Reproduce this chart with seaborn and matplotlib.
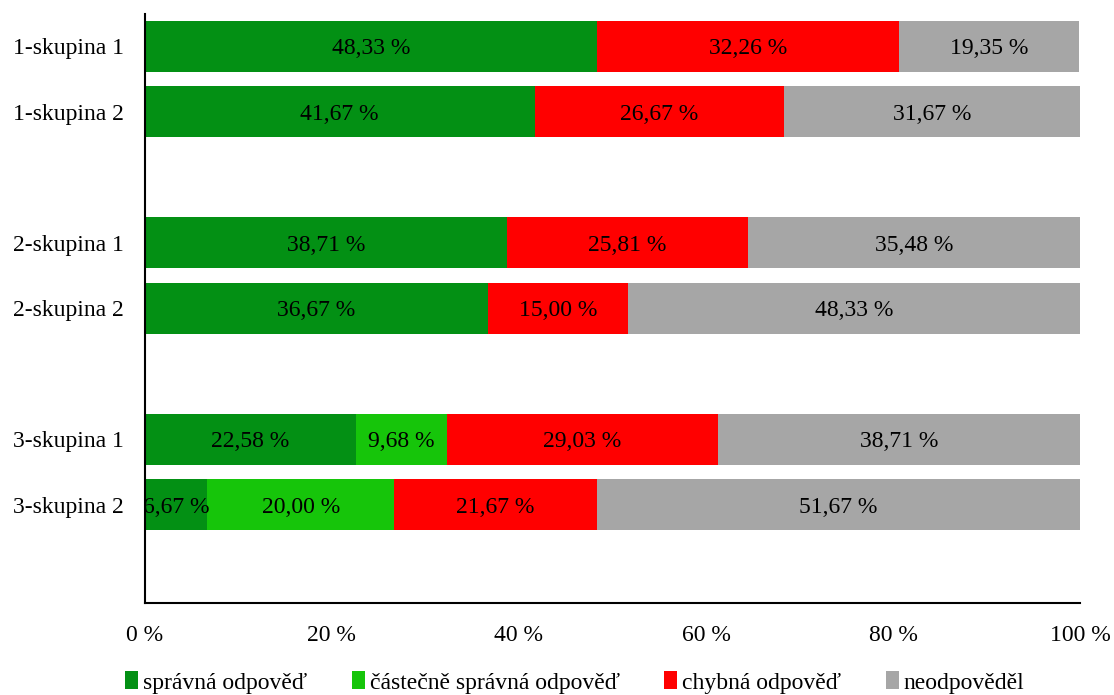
import matplotlib
matplotlib.use("Agg")
import matplotlib.pyplot as plt
import seaborn as sns
import numpy as np
import pandas as pd
from matplotlib.patches import Patch

sns.set_style("white")
plt.rcParams['font.family'] = ['Liberation Serif', 'DejaVu Serif']
plt.rcParams['text.color'] = 'black'
plt.rcParams['xtick.color'] = 'black'
plt.rcParams['ytick.color'] = 'black'

categories = ["1-skupina 1", "1-skupina 2", "2-skupina 1", "2-skupina 2", "3-skupina 1", "3-skupina 2"]
spravna = [48.33, 41.67, 38.71, 36.67, 22.58, 6.67]
castecne = [0.0, 0.0, 0.0, 0.0, 9.68, 20.00]
chybna = [32.26, 26.67, 25.81, 15.00, 29.03, 21.67]
neodp = [19.35, 31.67, 35.48, 48.33, 38.71, 51.67]
series_names = ["správná odpověď", "částečně správná odpověď", "chybná odpověď", "neodpověděl"]
colors = ["#039014", "#16C50A", "#FF0000", "#A6A6A6"]
xtick_vals = [0, 20, 40, 60, 80, 100]
xtick_labels = ["0 %", "20 %", "40 %", "60 %", "80 %", "100 %"]

order = ["1-skupina 1", "1-skupina 2", " ", "2-skupina 1", "2-skupina 2", "  ",
         "3-skupina 1", "3-skupina 2", "   "]

series = [spravna, castecne, chybna, neodp]
cums = np.cumsum(np.array(series), axis=0)

fig = plt.figure(figsize=(11.14, 6.95), dpi=100)
ax = fig.add_axes([0.130, 0.1324, 0.8395, 0.848])

# draw cumulative bars from the rightmost segment back so they stack
for i in range(3, -1, -1):
    df = pd.DataFrame({"cat": categories, "val": cums[i]})
    sns.barplot(data=df, x="val", y="cat", order=order, orient="h",
                color=colors[i], saturation=1, width=0.78, linewidth=0,
                errorbar=None, ax=ax)

pos = {c: order.index(c) for c in categories}
for i in range(4):
    for j, c in enumerate(categories):
        v = series[i][j]
        if v <= 0:
            continue
        start = cums[i][j] - v
        ax.text(start + v / 2, pos[c], f"{v:.2f}".replace(".", ",") + " %",
                ha="center", va="center_baseline", fontsize=17, color="black")

ax.set_xlim(0, 100)
ax.set_ylim(len(order) - 0.5, -0.5)
ax.set_xticks(xtick_vals)
ax.set_xticklabels(xtick_labels)
ax.set_xlabel("")
ax.set_ylabel("")
ax.tick_params(axis="x", length=0, pad=16, labelsize=17, labelcolor="black")
ax.tick_params(axis="y", length=0, pad=15, labelsize=17, labelcolor="black")
for s in ["top", "right"]:
    ax.spines[s].set_visible(False)
for s in ["left", "bottom"]:
    ax.spines[s].set_color("black")
    ax.spines[s].set_linewidth(1.5)

handles = [Patch(facecolor=colors[i], edgecolor="none") for i in range(4)]
fig.legend(handles, series_names, loc="center", bbox_to_anchor=(0.516, 0.018),
           ncol=4, frameon=False, fontsize=17, handlelength=0.55, handleheight=0.8,
           handletextpad=0.2, columnspacing=1.9, borderpad=0)

fig.savefig("out.png", dpi=100)
